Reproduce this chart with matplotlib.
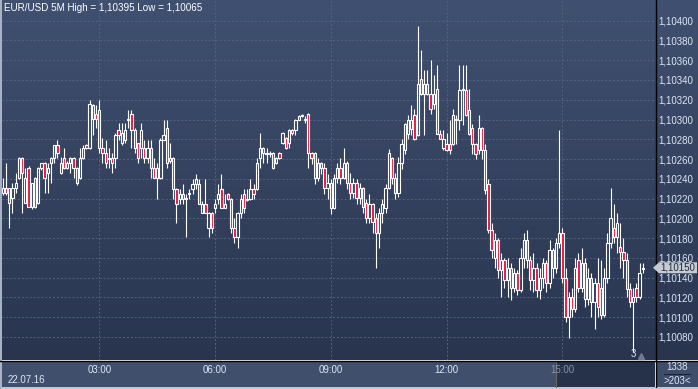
import numpy as np
import matplotlib
matplotlib.use('Agg')
import matplotlib.pyplot as plt
from matplotlib.patches import Rectangle, Polygon
from matplotlib.colors import LinearSegmentedColormap

plt.rcParams['font.family'] = ['Liberation Sans', 'DejaVu Sans']

W, H = 698, 389

# EUR/USD 5M candles, values in pips above 1.10000
opens = [226, 231, 231, 221, 231, 241, 261, 216, 251, 211,
         241, 216, 251, 256, 246, 256, 261, 274, 246, 261,
         251, 256, 261, 251, 241, 261, 274, 271, 315, 306,
         310, 271, 266, 260, 261, 261, 289, 276, 279, 300,
         306, 289, 276, 271, 271, 261, 271, 251, 241, 241,
         279, 291, 261, 261, 230, 220, 225, 220, 225, 230,
         235, 235, 205, 215, 190, 205, 210, 220, 230, 210,
         225, 220, 190, 181, 205, 225, 219, 220, 230, 230,
         261, 271, 265, 265, 266, 256, 266, 276, 281, 276,
         289, 289, 304, 304, 300, 306, 266, 266, 241, 256,
         251, 231, 236, 210, 241, 251, 241, 256, 236, 226,
         236, 221, 231, 216, 200, 215, 200, 185, 205, 210,
         231, 261, 241, 226, 256, 269, 285, 290, 305, 284,
         341, 326, 336, 326, 316, 331, 285, 271, 275, 275,
         275, 300, 300, 330, 330, 310, 291, 275, 269, 291,
         269, 235, 188, 160, 178, 148, 158, 138, 150, 130,
         145, 128, 160, 178, 158, 138, 150, 128, 140, 155,
         135, 168, 150, 175, 185, 140, 100, 120, 108, 158,
         130, 155, 118, 140, 115, 135, 130, 102, 140, 175,
         190, 181, 171, 166, 158, 129, 115, 130, 120, 149]
highs = [241, 256, 231, 236, 246, 262, 262, 251, 253, 236,
         242, 252, 256, 257, 256, 262, 274, 279, 262, 271,
         258, 262, 262, 252, 271, 274, 275, 320, 316, 315,
         320, 281, 279, 271, 266, 286, 296, 296, 296, 310,
         310, 291, 276, 296, 279, 279, 279, 261, 256, 281,
         299, 300, 276, 262, 231, 230, 235, 225, 230, 240,
         245, 240, 218, 240, 206, 206, 220, 235, 245, 225,
         226, 221, 200, 206, 225, 230, 230, 240, 235, 261,
         286, 272, 271, 268, 267, 262, 267, 287, 282, 290,
         290, 301, 305, 306, 304, 307, 267, 267, 261, 257,
         256, 245, 240, 245, 256, 261, 271, 258, 246, 241,
         240, 236, 232, 220, 225, 216, 205, 210, 220, 235,
         270, 262, 246, 262, 280, 296, 305, 315, 311, 395,
         370, 350, 350, 360, 345, 355, 289, 289, 286, 300,
         311, 305, 355, 355, 355, 331, 295, 276, 305, 292,
         275, 240, 195, 185, 180, 165, 160, 160, 155, 150,
         148, 170, 185, 188, 162, 165, 155, 150, 160, 158,
         178, 170, 180, 289, 190, 150, 125, 130, 160, 165,
         170, 160, 150, 145, 140, 160, 158, 150, 185, 231,
         215, 205, 195, 180, 165, 135, 130, 135, 155, 155]
lows = [224, 224, 190, 205, 226, 240, 205, 216, 211, 209,
        210, 215, 249, 226, 226, 236, 256, 261, 245, 250,
        250, 246, 241, 234, 240, 260, 270, 270, 284, 291,
        266, 256, 251, 251, 246, 251, 279, 274, 276, 291,
        271, 266, 256, 261, 256, 256, 241, 241, 220, 240,
        279, 251, 256, 220, 195, 215, 215, 181, 220, 225,
        230, 215, 205, 205, 181, 185, 205, 215, 210, 210,
        219, 185, 175, 170, 200, 205, 218, 219, 220, 229,
        251, 256, 256, 262, 250, 255, 260, 275, 270, 271,
        284, 284, 299, 303, 296, 251, 255, 235, 238, 245,
        225, 220, 204, 209, 236, 235, 240, 230, 220, 221,
        215, 215, 205, 195, 195, 185, 150, 170, 195, 205,
        230, 235, 220, 222, 250, 265, 280, 284, 279, 283,
        325, 284, 325, 306, 311, 285, 280, 269, 268, 265,
        274, 275, 289, 294, 304, 284, 265, 260, 265, 260,
        225, 185, 160, 150, 140, 120, 130, 120, 117, 125,
        122, 125, 150, 150, 128, 125, 120, 118, 130, 125,
        130, 140, 145, 170, 135, 95, 79, 100, 105, 125,
        125, 110, 112, 100, 88, 100, 98, 100, 135, 170,
        175, 165, 150, 140, 120, 110, 65, 115, 118, 145]
closes = [231, 226, 216, 231, 236, 261, 246, 241, 211, 236,
          211, 251, 256, 241, 251, 261, 274, 266, 256, 251,
          256, 261, 251, 236, 261, 271, 271, 316, 301, 301,
          271, 266, 256, 261, 256, 284, 284, 286, 289, 301,
          289, 271, 261, 289, 261, 271, 251, 241, 251, 279,
          284, 256, 258, 230, 215, 225, 220, 221, 226, 235,
          240, 215, 215, 205, 205, 190, 215, 225, 210, 215,
          220, 190, 181, 205, 220, 210, 220, 230, 225, 256,
          271, 266, 266, 266, 251, 261, 261, 286, 271, 289,
          286, 300, 300, 305, 301, 266, 261, 241, 256, 251,
          231, 236, 210, 241, 251, 241, 256, 236, 226, 236,
          221, 231, 211, 200, 215, 196, 185, 205, 215, 231,
          266, 241, 226, 256, 275, 295, 300, 300, 280, 336,
          326, 336, 326, 311, 326, 285, 280, 280, 269, 269,
          305, 301, 330, 331, 305, 285, 275, 265, 291, 269,
          229, 188, 168, 178, 148, 158, 138, 150, 130, 145,
          128, 160, 178, 158, 138, 150, 128, 140, 155, 135,
          168, 150, 175, 185, 140, 100, 120, 108, 150, 130,
          155, 118, 140, 115, 135, 110, 102, 140, 175, 200,
          181, 195, 166, 158, 129, 115, 120, 120, 145, 150]

time_labels = ['03:00', '06:00', '09:00', '12:00', '15:00']
time_index = [30, 66, 102, 138, 174]
price_ticks = list(range(80, 401, 20))

base = 1.1
o = base + np.array(opens) / 1e5
h = base + np.array(highs) / 1e5
l = base + np.array(lows) / 1e5
c = base + np.array(closes) / 1e5
idx = np.arange(len(o))

red = '#e8153f'
txt = '#dde6f4'

fig = plt.figure(figsize=(W / 100, H / 100), dpi=100)

# background layer in pixel coordinates
bg = fig.add_axes([0, 0, 1, 1])
bg.set_xlim(0, W)
bg.set_ylim(H, 0)
bg.axis('off')
cmap = LinearSegmentedColormap.from_list('bg', ['#405070', '#29354f'])
bg.imshow(np.linspace(0, 1, 256).reshape(-1, 1), cmap=cmap,
          extent=[0, W, 360, 0], aspect='auto')
bg.add_patch(Rectangle((0, 361), 556, 26, color='#40506c', lw=0))
bg.add_patch(Rectangle((556, 361), 99, 26, color='#26324a', lw=0))
bg.add_patch(Rectangle((656, 361), 42, 26, color='#3e4d6a', lw=0))
bg.plot([555.5, 555.5], [361, 387], color='#6a655c', lw=0.8)
bg.plot([0, W], [360.5, 360.5], color='black', lw=1.0)
bg.plot([655.5, 655.5], [0, 387], color='black', lw=1.0)
bg.add_patch(Rectangle((0, 386.5), W, 3, color='#c0c8d4', lw=0))
bg.add_patch(Rectangle((0, 0), 2, 389, color='#a8b2c2', lw=0))
bg.plot([664, 690], [374, 374], color='#1e2636', lw=0.8)
bg.text(677, 367.5, '1338', color=txt, fontsize=7, ha='center', va='center')
bg.text(677, 381, '>203<', color=txt, fontsize=7, ha='center', va='center')
bg.text(8, 380, '22.07.16', color=txt, fontsize=7, ha='left', va='center')

# main chart
ax = fig.add_axes([2 / W, 29 / H, 653 / W, 360 / H])
ax.patch.set_alpha(0)
for s in ax.spines.values():
    s.set_visible(False)
ax.set_xlim(-0.25, 202.8)
ax.set_ylim(base + 56.7e-5, base + 420.9e-5)

ax.set_yticks([base + p / 1e5 for p in price_ticks])
ax.set_yticklabels([f'{base + p / 1e5:.5f}'.replace('.', ',') for p in price_ticks])
ax.yaxis.tick_right()
ax.tick_params(axis='y', length=0, pad=2.2, labelsize=7, labelcolor=txt)
ax.set_xticks(time_index)
ax.set_xticklabels(time_labels)
ax.tick_params(axis='x', length=0, pad=3.4, labelsize=7, labelcolor=txt)
ax.get_xticklabels()[-1].set_color('#8793a8')
ax.grid(True, color='#53627d', linestyle=(0, (2, 2)), lw=0.7)
ax.set_axisbelow(True)

top = np.maximum(o, c)
bot = np.minimum(o, c)
ax.vlines(idx, top, h, color='white', lw=0.8, zorder=3)
ax.vlines(idx, l, bot, color='white', lw=0.8, zorder=3)
for i in idx:
    fc = red if c[i] < o[i] else 'none'
    ax.add_patch(Rectangle((i - 0.36, bot[i]), 0.72, top[i] - bot[i],
                           facecolor=fc, edgecolor='white', lw=0.8, zorder=4))

# marker under the session low
lo_i = int(np.argmin(l))
ax.text(lo_i, base + 63e-5, '3', color=txt, fontsize=7, ha='center', va='center')
ax.plot([lo_i + 2.6], [base + 60.5e-5], marker='^', ms=4, color='#6d7a92',
        clip_on=False)

title = f'EUR/USD 5M High = {h.max():.5f} Low = {l.min():.5f}'.replace('.', ',')
fig.text(4 / W, 1 - 8 / H, title, color='white', fontsize=7.1, ha='left', va='center')

# last price tag
fig.canvas.draw()
ypx = H - ax.transData.transform((0, c[-1]))[1]
bg.add_patch(Polygon([(653, ypx), (659, ypx - 5.5), (697, ypx - 5.5),
                      (697, ypx + 5.5), (659, ypx + 5.5)], closed=True,
                     color='#c6cad2', lw=0, zorder=5))
bg.text(660, ypx, f'{c[-1]:.5f}'.replace('.', ','), color='#1e2838',
        fontsize=7, ha='left', va='center', zorder=6)
bg.set_zorder(0)
ax.set_zorder(1)

fig.savefig('out.png', dpi=100)
